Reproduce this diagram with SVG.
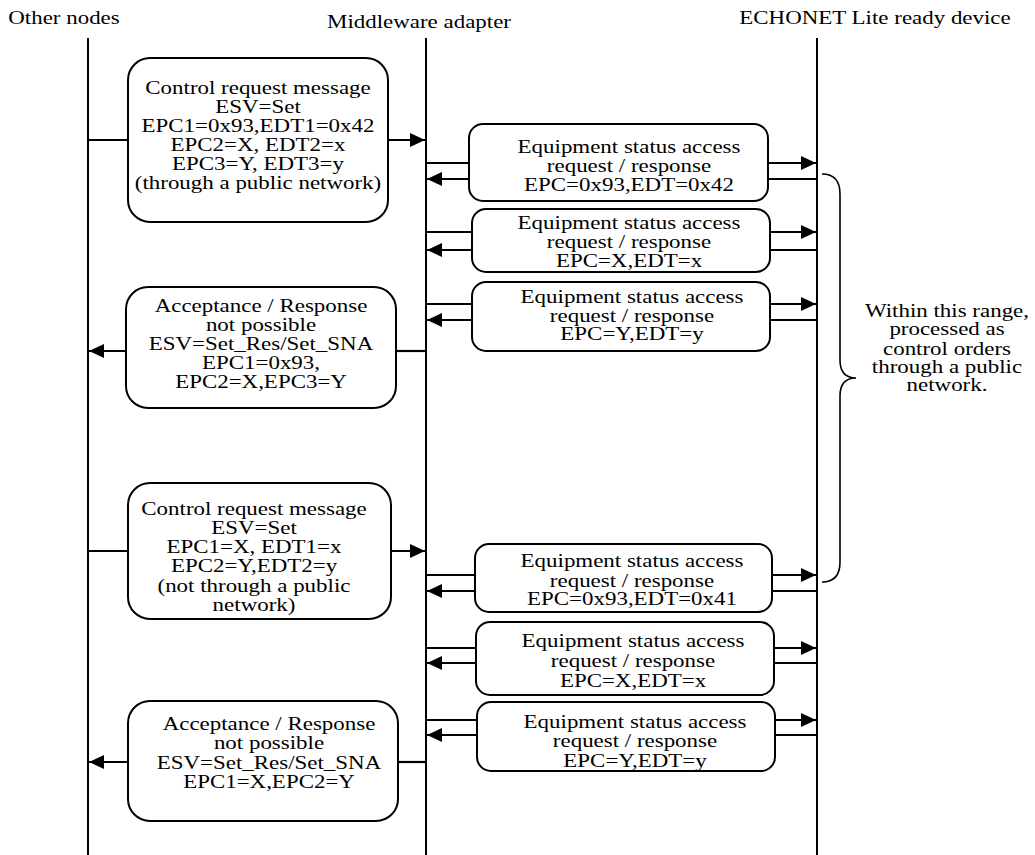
<svg xmlns="http://www.w3.org/2000/svg" width="1035" height="855" viewBox="0 0 1035 855">
<defs>
<marker id="ah" markerUnits="userSpaceOnUse" markerWidth="15" markerHeight="14" refX="15" refY="7" orient="auto">
<path d="M0,0 L15,7 L0,14 z" fill="#000"/>
</marker>
<style>
text{font-family:"Liberation Serif","Times New Roman",serif;font-size:18.5px;fill:#000;text-anchor:middle}
.box{fill:#fff;stroke:#000;stroke-width:2}
.life{stroke:#000;stroke-width:2}
.c{stroke:#000;stroke-width:2.2;fill:none}
.a{stroke:#000;stroke-width:2.2;fill:none;marker-end:url(#ah)}
.brace{stroke:#000;stroke-width:1.6;fill:none}
</style>
</defs>
<rect width="1035" height="855" fill="#fff"/>
<g id="lifelines">
<g transform="translate(64,0) scale(1.24,1)"><text x="0" y="24">Other nodes</text></g>
<g transform="translate(419,0) scale(1.24,1)"><text x="0" y="28">Middleware adapter</text></g>
<g transform="translate(875,0) scale(1.24,1)"><text x="0" y="24">ECHONET Lite ready device</text></g>
<line class="life" x1="88" y1="38" x2="88" y2="855"/>
<line class="life" x1="426" y1="38" x2="426" y2="855"/>
<line class="life" x1="817" y1="38" x2="817" y2="855"/>
</g>
<g id="connectors">
<line class="c" x1="88" y1="140" x2="128" y2="140"/>
<line class="a" x1="388" y1="140" x2="425" y2="140"/>
<line class="c" x1="426" y1="163" x2="469" y2="163"/>
<line class="a" x1="469" y1="179" x2="427" y2="179"/>
<line class="a" x1="768" y1="163" x2="816" y2="163"/>
<line class="c" x1="768" y1="179" x2="817" y2="179"/>
<line class="c" x1="426" y1="232" x2="472" y2="232"/>
<line class="a" x1="472" y1="250" x2="427" y2="250"/>
<line class="a" x1="770" y1="232" x2="816" y2="232"/>
<line class="c" x1="770" y1="250" x2="817" y2="250"/>
<line class="c" x1="426" y1="304" x2="472" y2="304"/>
<line class="a" x1="472" y1="320" x2="427" y2="320"/>
<line class="a" x1="770" y1="304" x2="816" y2="304"/>
<line class="c" x1="770" y1="320" x2="817" y2="320"/>
<line class="c" x1="426" y1="351" x2="396" y2="351"/>
<line class="a" x1="126" y1="351" x2="89" y2="351"/>
<line class="c" x1="88" y1="551" x2="128" y2="551"/>
<line class="a" x1="391" y1="551" x2="425" y2="551"/>
<line class="c" x1="426" y1="575" x2="475" y2="575"/>
<line class="a" x1="475" y1="591" x2="427" y2="591"/>
<line class="a" x1="772" y1="575" x2="816" y2="575"/>
<line class="c" x1="772" y1="591" x2="817" y2="591"/>
<line class="c" x1="426" y1="648" x2="476" y2="648"/>
<line class="a" x1="476" y1="663" x2="427" y2="663"/>
<line class="a" x1="774" y1="648" x2="816" y2="648"/>
<line class="c" x1="774" y1="663" x2="817" y2="663"/>
<line class="c" x1="426" y1="720" x2="477" y2="720"/>
<line class="a" x1="477" y1="735" x2="427" y2="735"/>
<line class="a" x1="775" y1="720" x2="816" y2="720"/>
<line class="c" x1="775" y1="735" x2="817" y2="735"/>
<line class="c" x1="426" y1="762" x2="398" y2="762"/>
<line class="a" x1="128" y1="762" x2="89" y2="762"/>
</g>
<g id="ctrl1">
<rect class="box" x="128" y="58" width="260" height="164" rx="22"/>
<g transform="translate(258,0) scale(1.24,1)">
<text x="0" y="94">Control request message</text>
<text x="0" y="113">ESV=Set</text>
<text x="0" y="132">EPC1=0x93,EDT1=0x42</text>
<text x="0" y="151">EPC2=X, EDT2=x</text>
<text x="0" y="170">EPC3=Y, EDT3=y</text>
<text x="0" y="189">(through a public network)</text>
</g>
</g>
<g id="eqA">
<rect class="box" x="469" y="124" width="299" height="77" rx="14"/>
<g transform="translate(629,0) scale(1.24,1)">
<text x="0" y="153">Equipment status access</text>
<text x="0" y="172">request / response</text>
<text x="0" y="191">EPC=0x93,EDT=0x42</text>
</g>
</g>
<g id="eqB">
<rect class="box" x="472" y="209" width="298" height="63" rx="14"/>
<g transform="translate(629,0) scale(1.24,1)">
<text x="0" y="229">Equipment status access</text>
<text x="0" y="248">request / response</text>
<text x="0" y="267">EPC=X,EDT=x</text>
</g>
</g>
<g id="eqC">
<rect class="box" x="472" y="282" width="298" height="69" rx="14"/>
<g transform="translate(632,0) scale(1.24,1)">
<text x="0" y="303">Equipment status access</text>
<text x="0" y="322">request / response</text>
<text x="0" y="340">EPC=Y,EDT=y</text>
</g>
</g>
<g id="acc1">
<rect class="box" x="126" y="287" width="270" height="121" rx="22"/>
<g transform="translate(261,0) scale(1.24,1)">
<text x="0" y="312">Acceptance / Response</text>
<text x="0" y="331">not possible</text>
<text x="0" y="350">ESV=Set_Res/Set_SNA</text>
<text x="0" y="369">EPC1=0x93,</text>
<text x="0" y="388">EPC2=X,EPC3=Y</text>
</g>
</g>
<g id="ctrl2">
<rect class="box" x="128" y="483" width="263" height="136" rx="22"/>
<g transform="translate(254,0) scale(1.24,1)">
<text x="0" y="515">Control request message</text>
<text x="0" y="534">ESV=Set</text>
<text x="0" y="553">EPC1=X, EDT1=x</text>
<text x="0" y="572">EPC2=Y,EDT2=y</text>
<text x="0" y="592">(not through a public</text>
<text x="0" y="611">network)</text>
</g>
</g>
<g id="eqD">
<rect class="box" x="475" y="544" width="297" height="68" rx="14"/>
<g transform="translate(632,0) scale(1.24,1)">
<text x="0" y="567">Equipment status access</text>
<text x="0" y="587">request / response</text>
<text x="0" y="605">EPC=0x93,EDT=0x41</text>
</g>
</g>
<g id="eqE">
<rect class="box" x="476" y="622" width="298" height="73" rx="14"/>
<g transform="translate(633,0) scale(1.24,1)">
<text x="0" y="647">Equipment status access</text>
<text x="0" y="667">request / response</text>
<text x="0" y="687">EPC=X,EDT=x</text>
</g>
</g>
<g id="eqF">
<rect class="box" x="477" y="702" width="298" height="69" rx="14"/>
<g transform="translate(635,0) scale(1.24,1)">
<text x="0" y="728">Equipment status access</text>
<text x="0" y="747">request / response</text>
<text x="0" y="767">EPC=Y,EDT=y</text>
</g>
</g>
<g id="acc2">
<rect class="box" x="128" y="701" width="270" height="120" rx="22"/>
<g transform="translate(269,0) scale(1.24,1)">
<text x="0" y="730">Acceptance / Response</text>
<text x="0" y="749">not possible</text>
<text x="0" y="769">ESV=Set_Res/Set_SNA</text>
<text x="0" y="788">EPC1=X,EPC2=Y</text>
</g>
</g>
<g id="range">
<path class="brace" d="M822,174 Q840,174 840,194 L840,360 Q840,378 856,378 Q840,378 840,396 L840,562 Q840,582 822,582"/>
<g transform="translate(947,0) scale(1.24,1)">
<text x="0" y="317">Within this range,</text>
<text x="0" y="335">processed as</text>
<text x="0" y="355">control orders</text>
<text x="0" y="373">through a public</text>
<text x="0" y="391">network.</text>
</g>
</g>
</svg>
